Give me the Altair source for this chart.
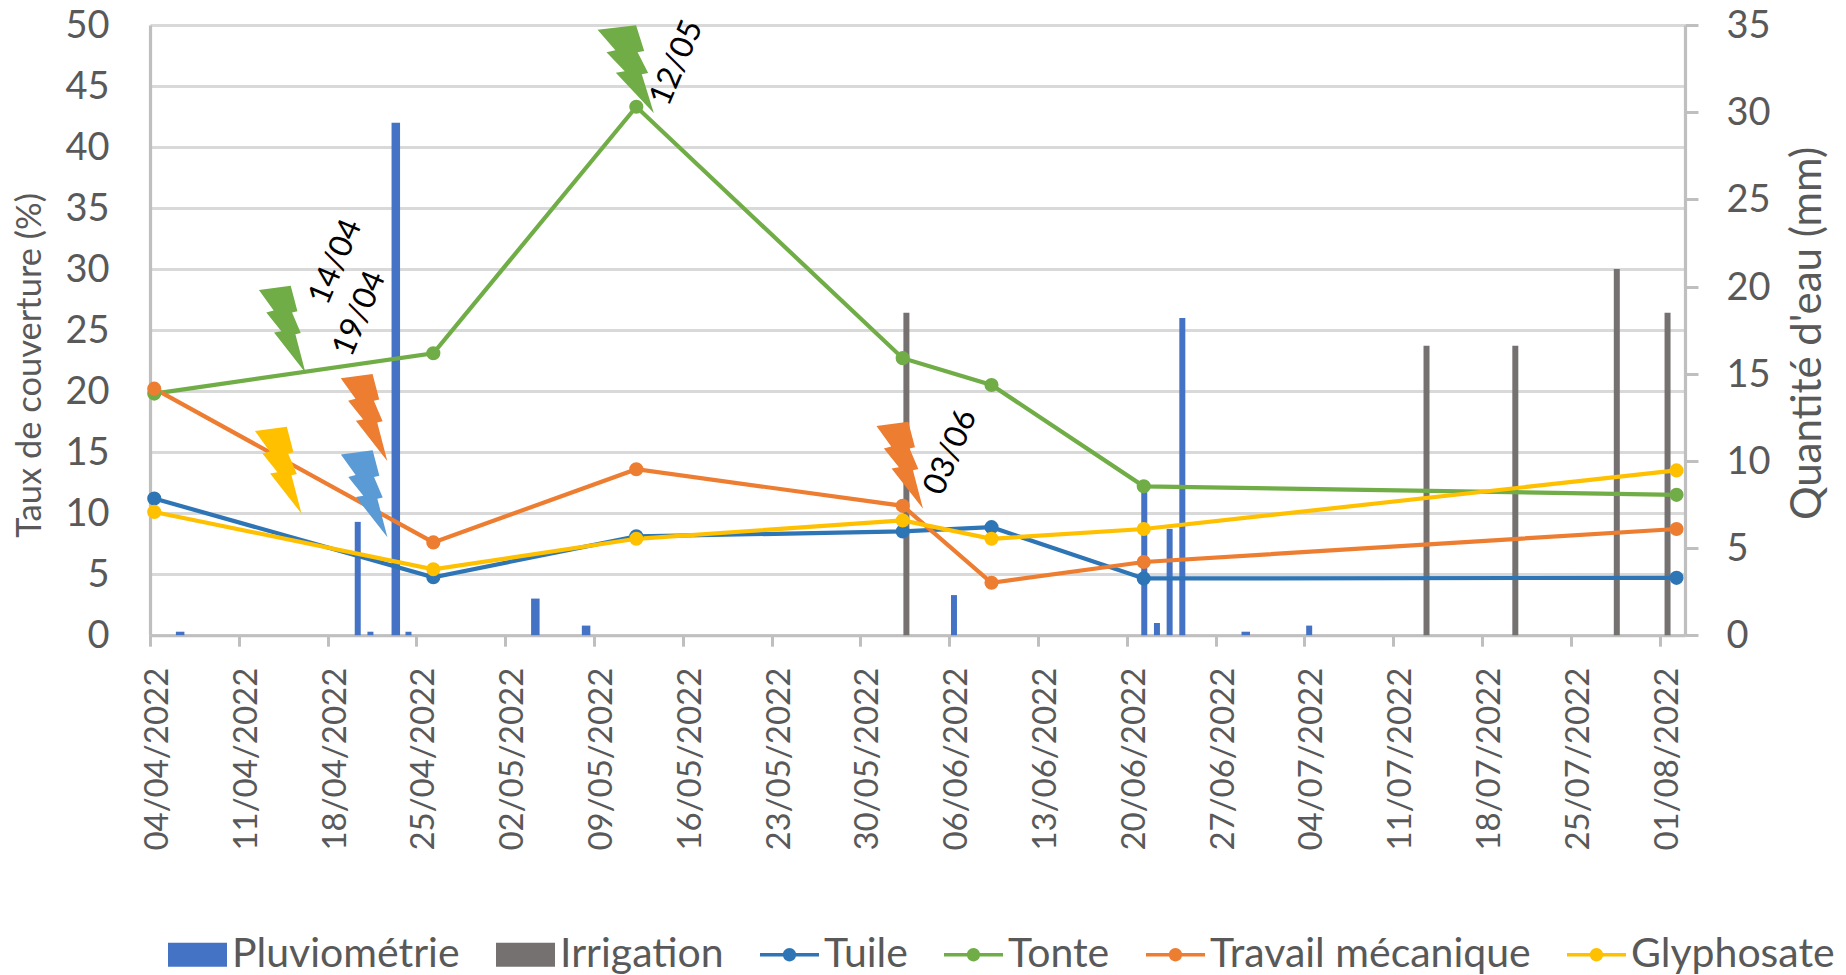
import altair as alt
import pandas as pd

START = pd.Timestamp("2022-04-04")

# ---- data ----
obs_dates = ["2022-04-04", "2022-04-26", "2022-05-12", "2022-06-02", "2022-06-09", "2022-06-21", "2022-08-02"]
tuile = [11.2, 4.75, 8.1, 8.5, 8.85, 4.65, 4.7]
tonte = [19.8, 23.1, 43.3, 22.7, 20.5, 12.2, 11.5]
travail = [20.2, 7.6, 13.6, 10.6, 4.3, 6.0, 8.7]
glyphosate = [10.1, 5.4, 7.9, 9.4, 7.9, 8.7, 13.5]

rain_dates_narrow = ["2022-04-20", "2022-04-21", "2022-04-24", "2022-06-06", "2022-06-21", "2022-06-22", "2022-06-23", "2022-06-24", "2022-07-04"]
rain_narrow = [6.5, 0.2, 0.2, 2.3, 8.5, 0.7, 6.1, 18.2, 0.55]
rain_dates_wide = ["2022-04-06", "2022-04-23", "2022-05-04", "2022-05-08", "2022-06-29"]
rain_wide = [0.2, 29.4, 2.1, 0.55, 0.2]
irrig_dates = ["2022-06-02", "2022-07-13", "2022-07-20", "2022-07-28", "2022-08-01"]
irrig = [18.5, 16.6, 16.6, 21.0, 18.5]

tick_days = list(range(0, 120, 7))
series = ["Pluviométrie", "Irrigation", "Tuile", "Tonte", "Travail mécanique", "Glyphosate"]
colors = ["#4472c4", "#767171", "#2e75b6", "#70ad47", "#ed7d31", "#ffc000"]

bolt_days = [10.42, 16.87, 10.11, 16.88, 59.1]
bolt_vals = [25.07, 17.84, 13.52, 11.59, 13.93]
bolt_colors = ["#70ad47", "#ed7d31", "#ffc000", "#5b9bd5", "#ed7d31"]
big_bolt_day = [37.5]
big_bolt_val = [46.37]
note_texts = ["14/04", "19/04", "12/05", "03/06"]
note_days = [14.62, 16.5, 41.5, 63.1]
note_vals = [30.6, 26.35, 46.9, 15.0]

FONT = "Lato"
GREY = "#595959"
AXC = "#bfbfbf"
GRID = "#d9d9d9"

def at(days):
    return [(START + pd.Timedelta(days=d)).isoformat() for d in days]

def hours(dates, h):
    return [f"{d}T{h:02d}:00:00" for d in dates]

def dt(ts):
    return alt.DateTime(year=ts.year, month=ts.month, date=ts.day)

obs = pd.DataFrame({
    "date": hours(obs_dates, 8) * 4,
    "serie": ["Tuile"] * 7 + ["Tonte"] * 7 + ["Travail mécanique"] * 7 + ["Glyphosate"] * 7,
    "v": tuile + tonte + travail + glyphosate,
})
rn = pd.DataFrame({"date": hours(rain_dates_narrow, 9), "mm": rain_narrow})
rw = pd.DataFrame({"date": hours(rain_dates_wide, 9), "mm": rain_wide})
ir = pd.DataFrame({"date": hours(irrig_dates, 15), "mm": irrig})
bolts = pd.DataFrame({"date": at(bolt_days), "v": bolt_vals, "c": bolt_colors})
big = pd.DataFrame({"date": at(big_bolt_day), "v": big_bolt_val})
notes = pd.DataFrame({"date": at(note_days), "v": note_vals, "t": note_texts})
leg = pd.DataFrame({"date": [obs_dates[0] + "T12:00:00"] * 6, "v": [0] * 6, "serie": series})

xdom = [dt(START), dt(pd.Timestamp("2022-08-03"))]
xscale = alt.Scale(domain=xdom, nice=False, padding=0)
xaxis = alt.Axis(
    values=[dt(START + pd.Timedelta(days=d)) for d in tick_days],
    format="%d/%m/%Y", labelAngle=270, labelAlign="right", labelBaseline="middle",
    labelOffset=7.5, labelPadding=21, labelFont=FONT, labelFontSize=33, labelColor=GREY,
    labelOverlap=False, labelFlush=False, grid=False, domainColor=AXC, domainWidth=3,
    tickColor=AXC, tickWidth=3, tickSize=11, title=None, labelLimit=400,
)
X = alt.X("date:T", scale=xscale, axis=xaxis)

yleft = alt.Y("v:Q", scale=alt.Scale(domain=[0, 50]), axis=alt.Axis(
    values=list(range(0, 55, 5)), ticks=False, tickSize=0, labelPadding=41, labelOffset=1.5,
    labelFont=FONT, labelFontSize=38, labelColor=GREY, labelOverlap=False,
    grid=True, gridColor=GRID, gridWidth=3, domainColor=AXC, domainWidth=3.2,
    title="Taux de couverture (%)", titleFont=FONT, titleFontSize=34.5, titleFontWeight="normal",
    titleColor=GREY, titleAngle=270, titleAlign="center", titleBaseline="middle",
    titleX=-120, titleY=340,
))
yright = alt.Y("mm:Q", stack=None, scale=alt.Scale(domain=[0, 35]), axis=alt.Axis(
    orient="right", values=list(range(0, 40, 5)), labelPadding=28, labelOffset=1.5, tickSize=13, tickWidth=3,
    tickColor=AXC, labelFont=FONT, labelFontSize=38, labelColor=GREY, labelOverlap=False,
    grid=False, domainColor=AXC, domainWidth=3.2,
    title="Quantité d'eau (mm)", titleFont=FONT, titleFontSize=42, titleFontWeight="normal",
    titleColor=GREY, titleAngle=270, titleAlign="center", titleBaseline="middle",
    titleX=123, titleY=308,
))

col_scale = alt.Scale(domain=series, range=colors)
obs_scale = alt.Scale(domain=series[2:], range=colors[2:])

LINE = "M-1,-0.06H1V0.06H-1Z"
DOT = "M-0.225,0A0.225,0.225,0,1,1,0.225,0A0.225,0.225,0,1,1,-0.225,0Z"
BOX = "M-1,-0.41H1V0.41H-1Z"
BOLT = ("M-0.535,-0.9L0.196,-1L0.35,-0.415L0.227,-0.385L0.427,0.085L0.304,0.115L0.535,1"
        "L-0.188,0.077L-0.019,0.046L-0.365,-0.385L-0.196,-0.431Z")
BIG_BOLT = ("M-0.64,-0.9L0.235,-1L0.42,-0.415L0.27,-0.385L0.51,0.085L0.365,0.115L0.64,1"
            "L-0.225,0.077L-0.023,0.046L-0.437,-0.385L-0.235,-0.431Z")

RAIN, IRR = colors[0], colors[1]
bars = alt.layer(
    alt.Chart(rw).mark_bar(size=8.5, color=RAIN).encode(x=X, y=yright),
    alt.Chart(rn).mark_bar(size=6, color=RAIN).encode(x=X, y=yright),
    alt.Chart(ir).mark_bar(size=6, color=IRR).encode(x=X, y=yright),
)

legend_spec = dict(
    title=None, orient="none", legendX=18, legendY=900, direction="horizontal", columns=6,
    columnPadding=36, labelOffset=5, symbolSize=3481, symbolStrokeWidth=0, symbolOpacity=1,
    labelFont=FONT, labelFontSize=41, labelColor=GREY, labelLimit=500, gridAlign="each",
)

front = alt.layer(
    alt.Chart(obs).mark_line(strokeWidth=4.2).encode(
        x=X, y=yleft, stroke=alt.Stroke("serie:N", scale=obs_scale, legend=None)),
    alt.Chart(obs).mark_point(filled=True, size=200, opacity=1).encode(
        x=X, y=yleft, fill=alt.Fill("serie:N", scale=obs_scale, legend=None)),
    alt.Chart(bolts).mark_point(filled=True, size=7569, opacity=1, shape=BOLT, strokeWidth=0).encode(
        x=X, y=yleft, fill=alt.Fill("c:N", scale=None)),
    alt.Chart(big).mark_point(filled=True, size=7744, opacity=1, shape=BIG_BOLT, strokeWidth=0, color="#70ad47").encode(
        x=X, y=yleft),
    alt.Chart(notes).mark_text(font=FONT, fontSize=32, angle=293, color="#000000", align="center", baseline="middle").encode(
        x=X, y=yleft, text="t:N"),
    alt.Chart(leg).mark_point(filled=True, size=0, opacity=1).encode(
        x=X, y=yleft,
        color=alt.Color("serie:N", scale=col_scale, legend=alt.Legend(**legend_spec)),
        shape=alt.Shape("serie:N", scale=alt.Scale(domain=series,
            range=[BOX, BOX, LINE + DOT, LINE + DOT, LINE + DOT, LINE + DOT]),
            legend=alt.Legend(**legend_spec)),
    ),
)

chart = alt.layer(bars, front).resolve_scale(y="independent").properties(
    width=1535, height=610.2,
    autosize=alt.AutoSizeParams(type="none"),
    padding={"left": 142, "top": 17, "right": 153, "bottom": 339.5},
).configure_view(stroke=None)

chart.save("out.html", embed_options={"renderer": "svg", "actions": False})
